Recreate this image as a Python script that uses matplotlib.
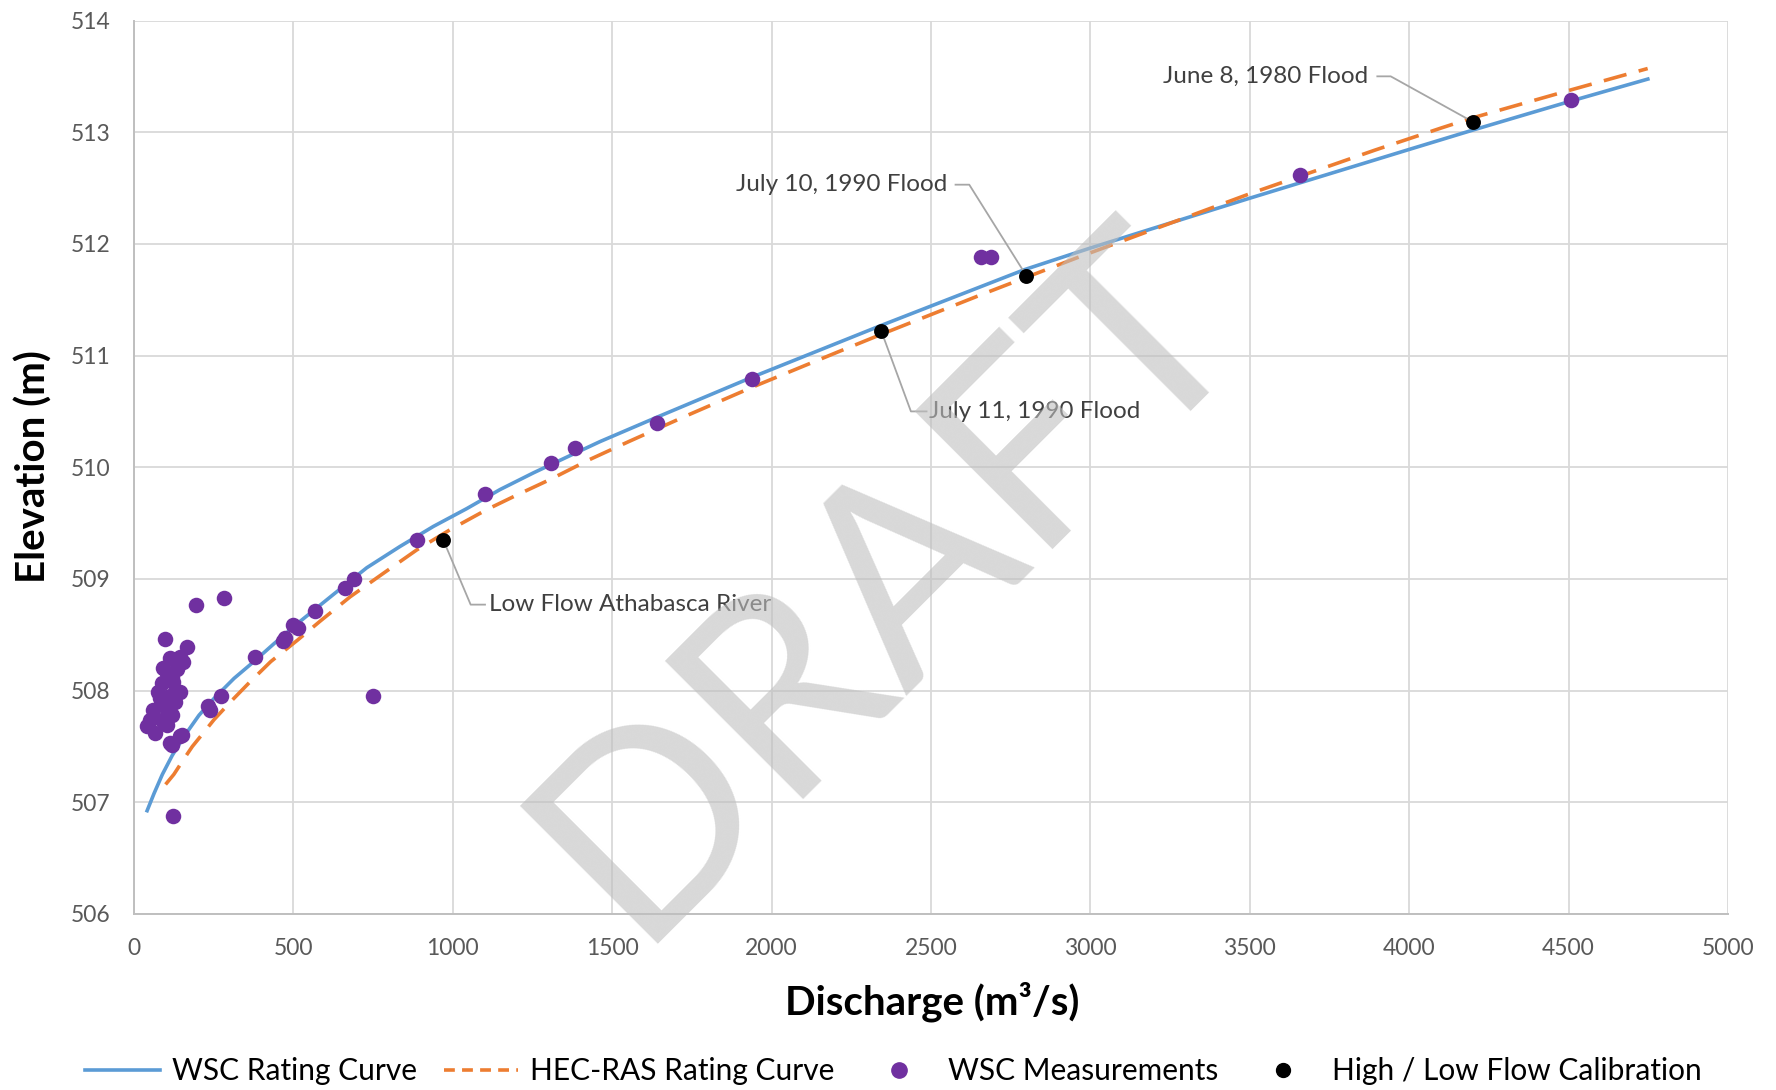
import numpy as np
import matplotlib
matplotlib.use("Agg")
import matplotlib.pyplot as plt
from matplotlib.lines import Line2D

plt.rcParams['font.family'] = ['Lato', 'DejaVu Sans']

# WSC rating curve (discharge, elevation)
wsc_q = [39, 63, 89, 120, 157, 204, 251, 314, 376, 439, 521, 625, 730, 834,
         939, 1044, 1148, 1253, 1357, 1462, 1642, 1942, 2344, 2794, 2997,
         3142, 3501, 4005, 4201, 4509, 4754]
wsc_h = [506.91, 507.08, 507.25, 507.42, 507.59, 507.78, 507.93, 508.11,
         508.26, 508.42, 508.62, 508.86, 509.10, 509.29, 509.47, 509.63,
         509.80, 509.95, 510.09, 510.23, 510.45, 510.81, 511.27, 511.77,
         511.96, 512.09, 512.41, 512.85, 513.02, 513.28, 513.48]

# HEC-RAS rating curve
ras_q = [99, 125, 157, 183, 220, 251, 303, 361, 429, 512, 583, 678, 782, 887,
         991, 1106, 1200, 1305, 1430, 1552, 1732, 1942, 2206, 2344, 2662,
         2962, 3142, 3501, 3893, 4103, 4201, 4509, 4748]
ras_h = [507.16, 507.25, 507.39, 507.50, 507.63, 507.74, 507.90, 508.07,
         508.26, 508.45, 508.62, 508.84, 509.05, 509.26, 509.44, 509.62,
         509.75, 509.89, 510.07, 510.23, 510.46, 510.72, 511.03, 511.19,
         511.55, 511.88, 512.07, 512.45, 512.84, 513.04, 513.13, 513.38,
         513.57]

# WSC measurements
meas_q = [97, 165, 113, 144, 155, 103, 134, 87, 123, 144, 82, 113, 61, 97, 50,
          87, 40, 66, 103, 113, 144, 76, 118, 128, 92, 120, 150, 118,
          121, 195, 282, 272, 233, 238, 381, 468, 473, 500, 515, 569, 662,
          691, 749, 887, 1101, 1307, 1384, 1642, 1939, 2656, 2688, 3657, 4509]
meas_h = [508.46, 508.39, 508.29, 508.30, 508.26, 508.16, 508.19, 508.07,
          508.08, 507.99, 507.93, 507.95, 507.83, 507.86, 507.74, 507.74,
          507.68, 507.62, 507.69, 507.53, 507.59, 507.99, 507.78, 507.90,
          508.20, 508.12, 507.60, 507.51,
          506.88, 508.77, 508.83, 507.95, 507.86, 507.83, 508.30, 508.44,
          508.47, 508.59, 508.56, 508.71, 508.92, 509.00, 507.95, 509.35,
          509.76, 510.04, 510.17, 510.40, 510.79, 511.88, 511.88, 512.62,
          513.29]

# high / low flow calibration events
cal_q = [970, 2344, 2798, 4201]
cal_h = [509.35, 511.22, 511.71, 513.09]

blue = '#5B9BD5'
orange = '#ED7D31'
purple = '#7030A0'
grey_txt = '#404040'
lead = '#a6a6a6'

fig = plt.figure(figsize=(17.76, 10.90), dpi=100)
ax = fig.add_axes([134/1776, 1-914/1090, 1594/1776, 893.5/1090])

ax.plot(wsc_q, wsc_h, color=blue, lw=2.6, zorder=3, solid_capstyle='butt',
        solid_joinstyle='round')
ax.plot(ras_q, ras_h, color=orange, lw=2.6, dashes=(6.5, 3.5), zorder=3)
ax.scatter(meas_q, meas_h, s=125, color=purple, zorder=4, linewidths=0)
ax.scatter(cal_q, cal_h, s=115, color='black', zorder=5, linewidths=0)

ax.set_xlim(0, 5000)
ax.set_ylim(506, 514)
ax.set_xticks(np.arange(0, 5001, 500))
ax.set_yticks(np.arange(506, 515, 1))
ax.grid(True, color='#d9d9d9', lw=1.3, zorder=0)
ax.set_axisbelow(True)
for s in ['top', 'right']:
    ax.spines[s].set_visible(False)
for s in ['left', 'bottom']:
    ax.spines[s].set_color('#bfbfbf')
    ax.spines[s].set_linewidth(1.4)
ax.tick_params(length=0, labelsize=16.5, labelcolor='#595959', pad=17)

fig.text(932/1776, 1-1002/1090, 'Discharge (m³/s)', ha='center', va='center',
         fontsize=29, fontweight='bold')
fig.text(34/1776, 1-467/1090, 'Elevation (m)', ha='center', va='center',
         rotation=90, fontsize=29, fontweight='bold')

# call-outs
kw = dict(fontsize=17.5, color=grey_txt, va='center', zorder=6)
ax.text(3871, 513.50, 'June 8, 1980 Flood', ha='right', **kw)
ax.plot([3900, 3942, 4195], [513.50, 513.50, 513.10], color=lead, lw=1.3, zorder=4)
ax.text(2550, 512.53, 'July 10, 1990 Flood', ha='right', **kw)
ax.plot([2577, 2620, 2798], [512.53, 512.53, 511.72], color=lead, lw=1.3, zorder=4)
ax.text(2494, 510.50, 'July 11, 1990 Flood', ha='left', **kw)
ax.plot([2344, 2437, 2486], [511.22, 510.50, 510.50], color=lead, lw=1.3, zorder=4)
ax.text(1115, 508.77, 'Low Flow Athabasca River', ha='left', **kw)
ax.plot([970, 1056, 1101], [509.35, 508.77, 508.77], color=lead, lw=1.3, zorder=4)

handles = [
    Line2D([], [], color=blue, lw=2.6),
    Line2D([], [], color=orange, lw=2.6, dashes=(3, 2)),
    Line2D([], [], color=purple, marker='o', ls='none', markersize=11),
    Line2D([], [], color='black', marker='o', ls='none', markersize=10),
]
labels = ['WSC Rating Curve', 'HEC-RAS Rating Curve', 'WSC Measurements',
          'High / Low Flow Calibration']
fig.legend(handles, labels, loc='center', bbox_to_anchor=(0.503, 1-1071/1090),
           ncol=4, frameon=False, fontsize=21.5, handlelength=2.5,
           handletextpad=0.4, columnspacing=0.9)

# watermark
fig.text(887/1776, 1-581/1090, 'DRAFT', rotation=45, rotation_mode='anchor',
         ha='center', va='center', fontsize=195, color='#bfbfbf', alpha=0.6,
         zorder=10)

fig.savefig('out.png', dpi=100)
